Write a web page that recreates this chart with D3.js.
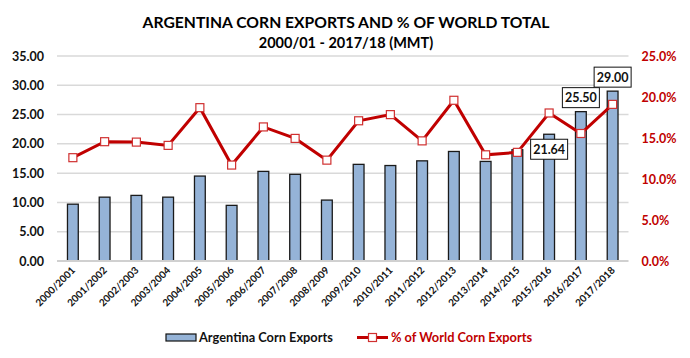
<!DOCTYPE html>
<html><head><meta charset="utf-8">
<script src="https://cdn.jsdelivr.net/npm/d3@7"></script>
<style>body{margin:0;background:#fff}svg{display:block;font-family:Lato,"Open Sans",sans-serif}</style>
</head><body><svg id="c" width="690" height="358"></svg>
<script>
const categories=["2000/2001","2001/2002","2002/2003","2003/2004","2004/2005","2005/2006","2006/2007","2007/2008","2008/2009","2009/2010","2010/2011","2011/2012","2012/2013","2013/2014","2014/2015","2015/2016","2016/2017","2017/2018"];
const exportsMMT=[9.7,10.9,11.2,10.9,14.5,9.5,15.3,14.8,10.4,16.5,16.3,17.1,18.7,17.0,19.0,21.64,25.5,29.0];
const worldPct=[12.6,14.55,14.5,14.1,18.7,11.7,16.35,14.95,12.3,17.1,17.85,14.65,19.6,12.95,13.25,18.05,15.55,19.1];
const labeled=["2015/2016","2016/2017","2017/2018"];
const leftTicks=[0,5,10,15,20,25,30,35];
const rightTicks=[0,5,10,15,20,25];
const title1="ARGENTINA CORN EXPORTS AND % OF WORLD TOTAL";
const title2="2000/01 - 2017/18 (MMT)";
const legendNames=["Argentina Corn Exports","% of World Corn Exports"];

const svg=d3.select("#c");
const L=57,R=628.5,T=56,B=261;
const x=d3.scaleBand().domain(categories).range([L,R]).paddingInner(0.66).paddingOuter(0.33);
const y=d3.scaleLinear().domain([0,35]).range([B,T]);
const y2=d3.scaleLinear().domain([0,25]).range([B,T]);
const red="#c00000";

svg.append("text").attr("x",346).attr("y",28).attr("text-anchor","middle").attr("font-weight","bold").attr("font-size",15.7).text(title1);
svg.append("text").attr("x",346).attr("y",47.5).attr("text-anchor","middle").attr("font-weight","bold").attr("font-size",14.5).text(title2);

// grid
const g=svg.append("g");
g.selectAll("line.grid").data(leftTicks.slice(1)).join("line").attr("x1",L).attr("x2",R).attr("y1",d=>y(d)).attr("y2",d=>y(d)).attr("stroke","#d9d9d9").attr("stroke-width",1.5);

// left axis
const la=svg.append("g").attr("transform",`translate(${L},0)`).call(d3.axisLeft(y).tickValues(leftTicks).tickFormat(d3.format(".2f")).tickSize(0).tickPadding(13));
la.select(".domain").remove();
la.selectAll("text").attr("font-size",12.5).attr("font-weight","bold").attr("fill","#111").attr("font-family","Lato,sans-serif");
// right axis
const ra=svg.append("g").attr("transform",`translate(${R},0)`).call(d3.axisRight(y2).tickValues(rightTicks).tickFormat(d=>d.toFixed(1)+"%").tickSize(0).tickPadding(13));
ra.select(".domain").remove();
ra.selectAll("text").attr("font-size",12.5).attr("font-weight","bold").attr("fill",red).attr("font-family","Lato,sans-serif");

// bars
svg.append("g").selectAll("rect").data(categories).join("rect")
 .attr("x",d=>x(d)).attr("width",x.bandwidth()).attr("y",(d,i)=>y(exportsMMT[i])).attr("height",(d,i)=>B-y(exportsMMT[i]))
 .attr("fill","#95b3d7").attr("stroke","#1a1a1a").attr("stroke-width",1.3);

// x axis line
svg.append("line").attr("x1",L).attr("x2",R).attr("y1",B).attr("y2",B).attr("stroke","#d0d0d0").attr("stroke-width",2);

// x labels
svg.append("g").selectAll("text").data(categories).join("text")
 .attr("transform",d=>`translate(${x(d)+x.bandwidth()/2+3},${B+10}) rotate(-45)`)
 .attr("text-anchor","end").attr("font-size",10).attr("font-weight","bold").attr("fill","#111").text(d=>d);

// line
const cx=d=>x(d)+x.bandwidth()/2;
svg.append("path").datum(categories).attr("d",d3.line().x(cx).y((d,i)=>y2(worldPct[i])))
 .attr("fill","none").attr("stroke",red).attr("stroke-width",3);
svg.append("g").selectAll("rect").data(categories).join("rect")
 .attr("x",d=>cx(d)-4).attr("y",(d,i)=>y2(worldPct[i])-4).attr("width",8).attr("height",8)
 .attr("fill","#fff").attr("stroke","#d03030").attr("stroke-width",1.2);

// data labels
const offsets={"2015/2016":15,"2016/2017":-14,"2017/2018":-14};
labeled.forEach(c=>{
  const i=categories.indexOf(c);
  const lx=cx(c), ly=y(exportsMMT[i])+offsets[c];
  const gg=svg.append("g");
  gg.append("rect").attr("x",lx-18.5).attr("y",ly-10).attr("width",37).attr("height",20).attr("fill","#fff").attr("stroke","#111").attr("stroke-width",1);
  gg.append("text").attr("x",lx).attr("y",ly+4.5).attr("text-anchor","middle").attr("font-size",12.5).attr("font-weight","bold").attr("fill","#111").text(exportsMMT[i].toFixed(2));
});

// legend
const lg=svg.append("g");
lg.append("rect").attr("x",166).attr("y",334).attr("width",30).attr("height",7).attr("fill","#95b3d7").attr("stroke","#111").attr("stroke-width",1.2);
lg.append("text").attr("x",199).attr("y",342).attr("font-size",12.8).attr("font-weight","bold").attr("fill","#111").text(legendNames[0]);
lg.append("line").attr("x1",357).attr("x2",388).attr("y1",337.5).attr("y2",337.5).attr("stroke",red).attr("stroke-width",3);
lg.append("rect").attr("x",368.5).attr("y",333.5).attr("width",8).attr("height",8).attr("fill","#fff").attr("stroke","#d03030").attr("stroke-width",1.2);
lg.append("text").attr("x",391).attr("y",342).attr("font-size",12.8).attr("font-weight","bold").attr("fill",red).text(legendNames[1]);
</script></body></html>
